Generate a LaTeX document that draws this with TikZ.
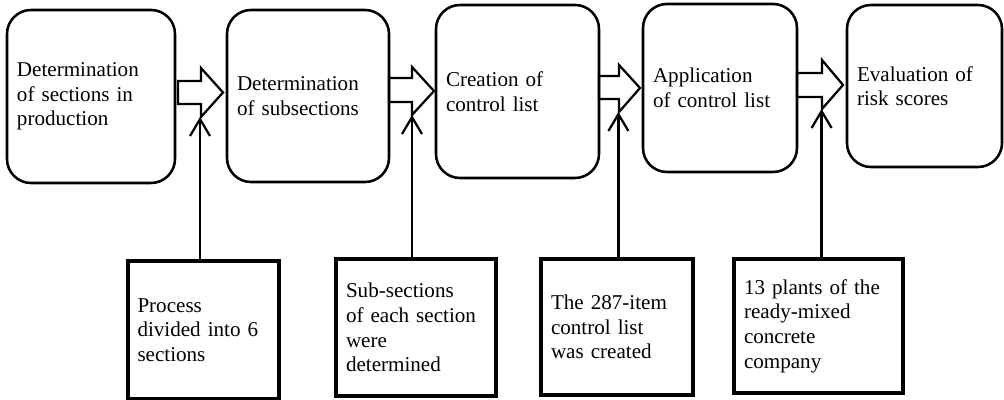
\documentclass[tikz,border=0pt]{standalone}
\usepackage{fontspec}
\setmainfont{Liberation Serif}
\usepackage{tikz}
\usetikzlibrary{arrows.meta}

\begin{document}
\begin{tikzpicture}[
  stage/.style={draw, line width=1.8pt, rounded corners=0.6cm, inner sep=0pt, align=left, font=\fontsize{15}{17.5}\selectfont},
  note/.style={draw, line width=2.2pt, inner sep=0pt, align=left, font=\fontsize{15}{17.5}\selectfont},
  block/.style={draw, line width=1.6pt, line join=miter},
  up/.style={-{Straight Barb[length=0.42cm, width=0.5cm]}, line width=1.6pt}
]
\useasboundingbox (0,0) rectangle (25.1,10);

% steps of the method
\node[stage, minimum width=4.2cm, minimum height=4.325cm, text width=3.7cm] (s1) at (2.275,7.5875) {Determination\\of sections in\\production};
\node[stage, minimum width=4.05cm, minimum height=4.3cm, text width=3.55cm] (s2) at (7.7,7.6) {Determination\\of subsections};
\node[stage, minimum width=4.075cm, minimum height=4.325cm, text width=3.575cm] (s3) at (12.9375,7.7125) {Creation of\\control list};
\node[stage, minimum width=3.85cm, minimum height=4.2cm, text width=3.35cm] (s4) at (18.0,7.8) {Application\\of control list};
\node[stage, minimum width=3.875cm, minimum height=4.05cm, text width=3.375cm] (s5) at (23.1125,7.85) {Evaluation of\\risk scores};

% block arrows between the steps
\draw[block] (4.45,7.975) -- (5.025,7.975) -- (5.025,8.3) -- (5.575,7.6875) -- (5.025,7.075) -- (5.025,7.4) -- (4.45,7.4) -- cycle;
\draw[block] (9.725,8.05) -- (10.3,8.05) -- (10.3,8.325) -- (10.85,7.725) -- (10.3,7.125) -- (10.3,7.45) -- (9.725,7.45) -- cycle;
\draw[block] (14.975,8.1) -- (15.475,8.1) -- (15.475,8.375) -- (16.0,7.8) -- (15.475,7.2) -- (15.475,7.525) -- (14.975,7.525) -- cycle;
\draw[block] (19.925,8.175) -- (20.55,8.175) -- (20.55,8.5) -- (21.075,7.875) -- (20.55,7.275) -- (20.55,7.575) -- (19.925,7.575) -- cycle;
\coordinate (h1) at (5.0,7.075);
\coordinate (h2) at (10.3,7.125);
\coordinate (h3) at (15.46,7.2);
\coordinate (h4) at (20.54,7.275);

% notes below
\node[note, minimum width=3.775cm, minimum height=3.45cm, text width=3.3cm] (p1) at (5.0875,1.75) {Process\\divided into 6\\sections};
\node[note, minimum width=4.0cm, minimum height=3.425cm, text width=3.5cm] (p2) at (10.4,1.8125) {Sub-sections\\of each section\\were\\determined};
\node[note, minimum width=3.8cm, minimum height=3.4cm, text width=3.3cm] (p3) at (15.425,1.825) {The 287-item\\control list\\was created};
\node[note, minimum width=4.225cm, minimum height=3.35cm, text width=3.725cm] (p4) at (20.4625,1.85) {13 plants of the\\ready-mixed\\concrete\\company};

\foreach \i in {1,...,4}
  \draw[up] (p\i.north -| h\i) -- (h\i);
\end{tikzpicture}
\end{document}
